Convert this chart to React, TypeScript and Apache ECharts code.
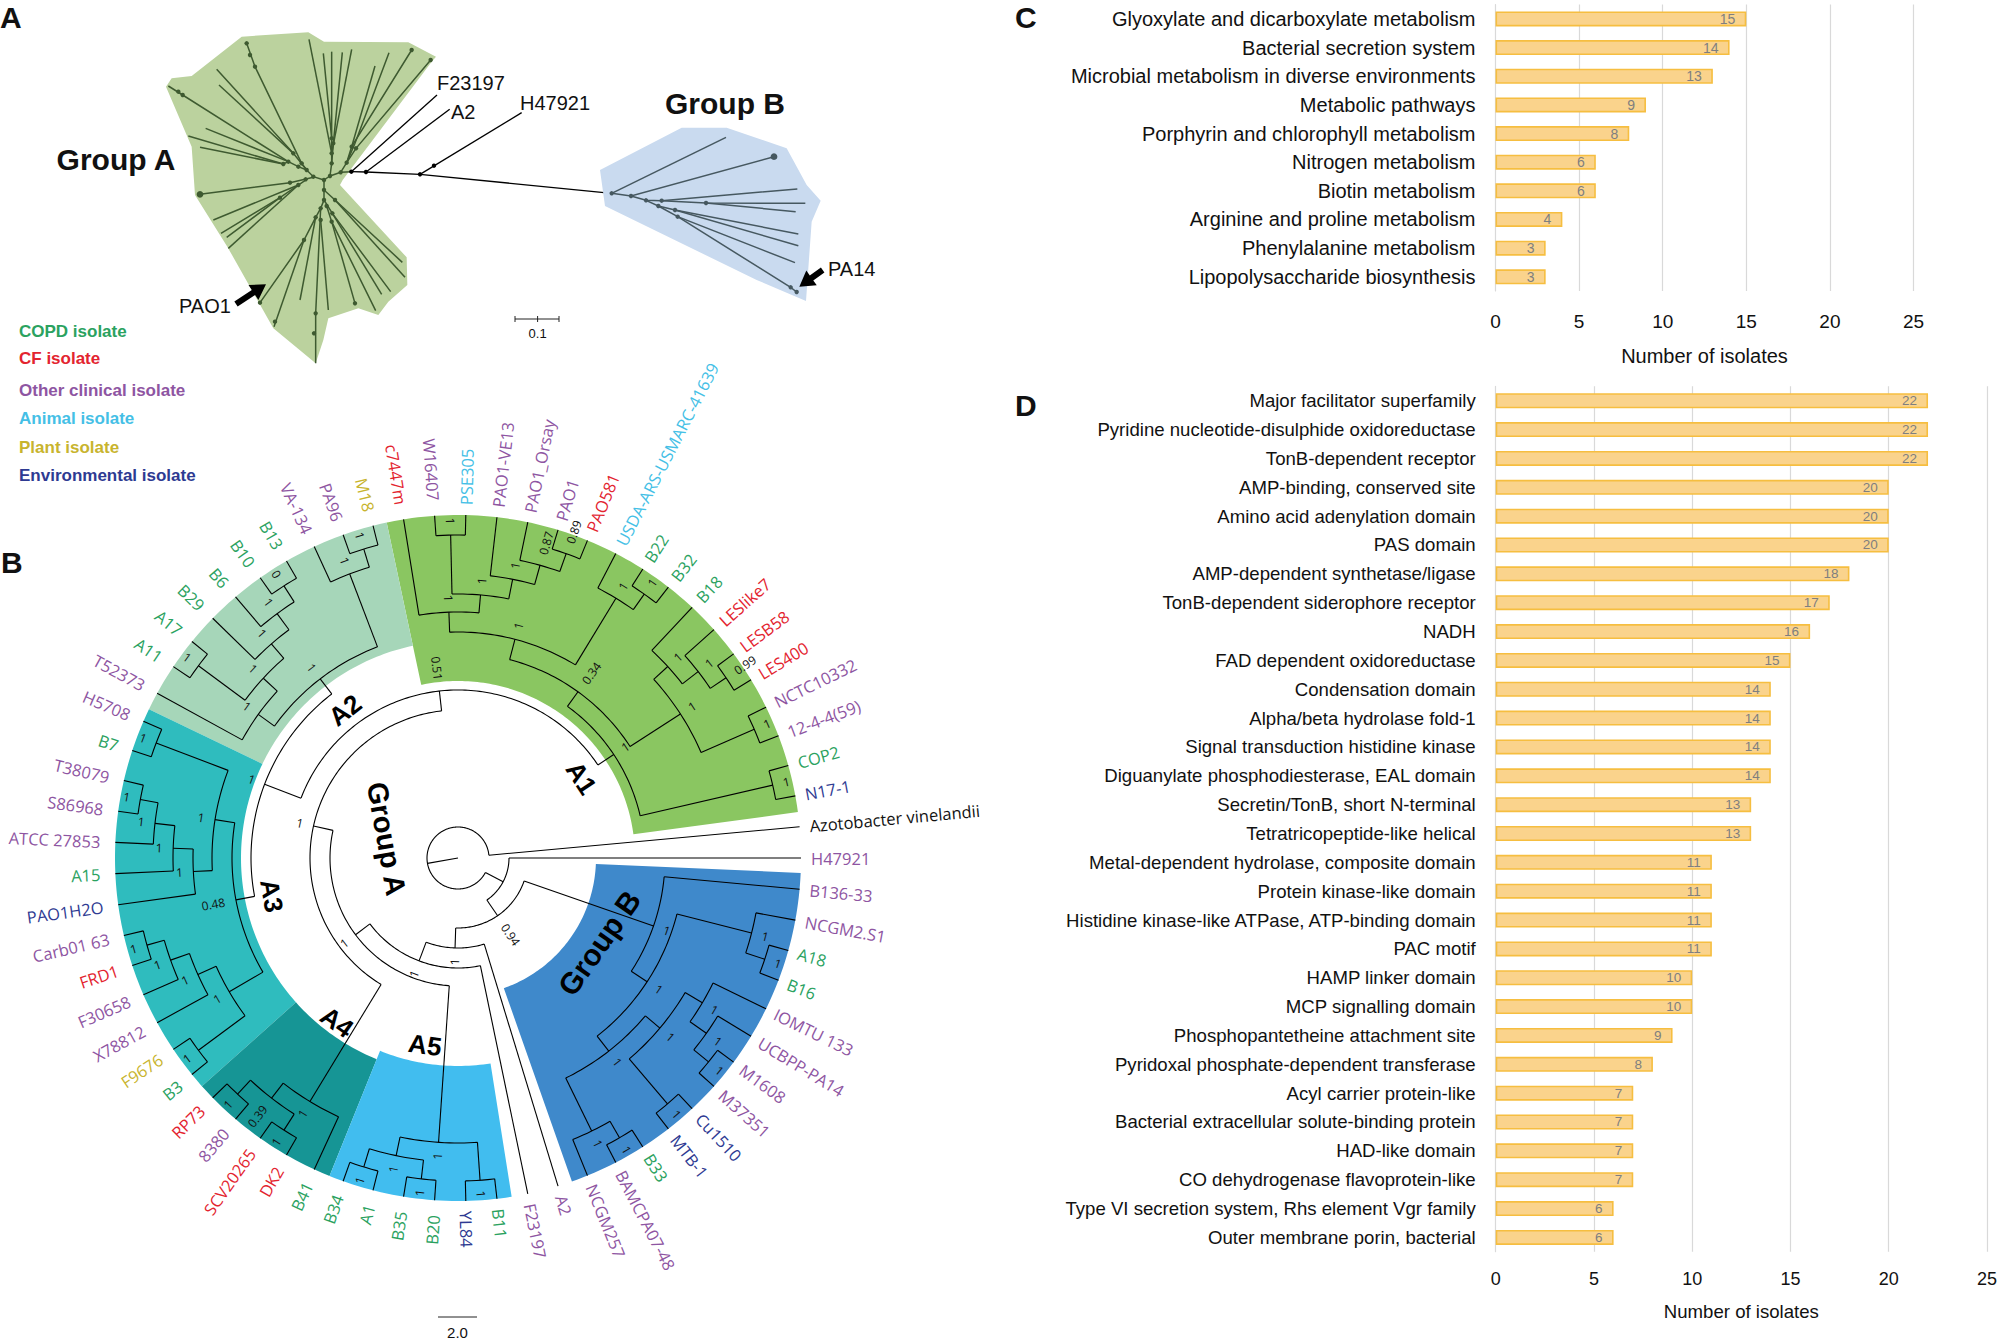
import React, { useEffect, useRef } from "react";
import * as echarts from "echarts";

/* ---------- Panel C / D bars ---------- */
const pathwayNames = ["Glyoxylate and dicarboxylate metabolism","Bacterial secretion system","Microbial metabolism in diverse environments","Metabolic pathways","Porphyrin and chlorophyll metabolism","Nitrogen metabolism","Biotin metabolism","Arginine and proline metabolism","Phenylalanine metabolism","Lipopolysaccharide biosynthesis"];
const pathwayCounts = [15,14,13,9,8,6,6,4,3,3];
const domainNames = ["Major facilitator superfamily","Pyridine nucleotide-disulphide oxidoreductase","TonB-dependent receptor","AMP-binding, conserved site","Amino acid adenylation domain","PAS domain","AMP-dependent synthetase/ligase","TonB-dependent siderophore receptor","NADH","FAD dependent oxidoreductase","Condensation domain","Alpha/beta hydrolase fold-1","Signal transduction histidine kinase","Diguanylate phosphodiesterase, EAL domain","Secretin/TonB, short N-terminal","Tetratricopeptide-like helical","Metal-dependent hydrolase, composite domain","Protein kinase-like domain","Histidine kinase-like ATPase, ATP-binding domain","PAC motif","HAMP linker domain","MCP signalling domain","Phosphopantetheine attachment site","Pyridoxal phosphate-dependent transferase","Acyl carrier protein-like","Bacterial extracellular solute-binding protein","HAD-like domain","CO dehydrogenase flavoprotein-like","Type VI secretion system, Rhs element Vgr family","Outer membrane porin, bacterial"];
const domainCounts = [22,22,22,20,20,20,18,17,16,15,14,14,14,14,13,13,11,11,11,11,10,10,9,8,7,7,7,7,6,6];

/* ---------- Panel B leaves, in angular order ---------- */
const leafNames = ["H47921","Azotobacter vinelandii","N17-1","COP2","12-4-4(59)","NCTC10332","LES400","LESB58","LESlike7","B18","B32","B22","USDA-ARS-USMARC-41639","PAO581","PAO1","PAO1_Orsay","PAO1-VE13","PSE305","W16407","c7447m","M18","PA96","VA-134","B13","B10","B6","B29","A17","A11","T52373","H5708","B7","T38079","S86968","ATCC 27853","A15","PAO1H2O","Carb01 63","FRD1","F30658","X78812","F9676","B3","RP73","8380","SCV20265","DK2","B41","B34","A1","B35","B20","YL84","B11","F23197","A2","NCGM257","BAMCPA07-48","B33","MTB-1","Cu1510","M37351","M1608","UCBPP-PA14","IOMTU 133","B16","A18","NCGM2.S1","B136-33"];
const leafKinds = "OXEDOOCCCDDDACOOOAOCPOODDDDDDOODOOODEOCOOPDCOCCDDDDDEDOOOODEEOOOODDOO".split("");
const kindColors: Record<string,string> = { D:"#2BA25F", C:"#E3242F", O:"#8E55A2", A:"#45BFE6", P:"#C8B42E", E:"#2E3A92", X:"#111111" };
const legendRows = [["COPD isolate","D",331],["CF isolate","C",358],["Other clinical isolate","O",390],["Animal isolate","A",418],["Plant isolate","P",447],["Environmental isolate","E",475]] as const;

type Node = { r:number; kids:(Node|string)[]; sup?:string; a?:number };
const t = (r:number, kids:(Node|string)[], sup?:string, a?:number):Node => ({r,kids,sup,a});

const cladeGroupB = t(207,["B136-33",t(226,[
  t(303,["NCGM2.S1",t(323,["A18","B16"],"1")],"1"),
  t(245,[
    t(264,[t(284,["IOMTU 133",t(304,["UCBPP-PA14",t(323,["M1608","M37351"],"1")],"1")],"1"),t(323,["Cu1510","MTB-1"],"1")],"1"),
    t(304,[t(323,["B33","BAMCPA07-48"],"1"),"NCGM257"],"1")
  ],"1")
],"1")],"1");
const cladeA1 = t(187,[t(323,["N17-1","COP2"],"1"),t(205,[
  t(265,[t(323,["NCTC10332","12-4-4(59)"],"1"),t(284,["B18",t(304,["LESlike7",t(323,["LESB58","LES400"],"0.99")],"1")],"1")],"1"),
  t(226,[
    t(304,["USDA-ARS-USMARC-41639",t(323,["B22","B32"],"1")],"1"),
    t(246,["c7447m",t(264,[t(323,["W16407","PSE305"],"1"),t(284,["PAO1-VE13",t(304,["PAO1_Orsay",t(323,["PAO1","PAO581"],"0.89")],"0.87")],"1")],"1")],"1")
  ],"1")
],"0.34")],"1");
const cladeA2 = t(226,[
  t(304,["VA-134",t(323,["M18","PA96"],"1")],"1"),
  t(246,["T52373",t(265,[t(323,["A11","A17"],"1"),t(284,["B29",t(304,["B6",t(323,["B10","B13"],"0")],"1")],"1")],"1")],"1")
],"1");
const cladeA3 = t(226,[
  t(246,[t(323,["H5708","B7"],"1"),t(265,["PAO1H2O",t(285,["A15",t(305,["ATCC 27853",t(323,["T38079","S86968"],"1")],"1")],"1")],"1")],"1"),
  t(265,[t(323,["F9676","B3"],"1"),t(285,["X78812",t(305,["F30658",t(323,["FRD1","Carb01 63"],"1")],"1")],"1")],"1")
],"0.48");
const cladeA4 = t(285,["B41",t(304,[t(323,["DK2","SCV20265"],"1"),t(323,["8380","RP73"],"1")],"0.39")],"1");
const cladeA5 = t(285,[t(323,["YL84","B11"],"1"),t(304,[t(323,["B20","B35"],"1"),t(323,["A1","B34"],"1")],"1")],"1");
const treeRoot = t(31,["Azotobacter vinelandii",t(51,["H47921",t(70,[cladeGroupB,
  t(90,["A2",t(110,["F23197",t(128,[cladeA5,t(148,[cladeA4,t(168,[cladeA1,t(207,[cladeA2,cladeA3],"1")],"0.51")],"1")],"1")],"1")],"1")
],"0.94")])],undefined,190);

/* clade shading: inner radius, from angle, to angle, colour */
const wedgeRows: [number,number,number,string][] = [
  [177,7.7,102,"#8AC661"],[217,102,154.3,"#A6D6B9"],[217,154.3,221.7,"#2FBCBE"],
  [217,221.7,248,"#169595"],[208,248,279,"#41BDEF"],[138,289.4,357.5,"#3F89CB"],
];
/* text, radius, angle, rotation, size */
const cladeLabels: [string,number,number,number,number][] = [
  ["Group A",74,165,-80,29],["Group B",165,329,55,30],["A1",147,33,-57,26],["A2",186,127.4,38,26],
  ["A3",190,191.5,-80,26],["A4",204,233.6,-35,26],["A5",190,260,-8,26],
];

/* ---------- Panel A, in tree-plot units ---------- */
const hullGroupA = [[48,200],[65,175],[125,168],[275,50],[475,37],[522,65],[775,67],[858,110],[845,125],[578,480],[570,495],[770,712],[772,795],[715,845],[685,885],[625,865],[535,895],[520,960],[497,1030],[370,925],[232,680],[135,525],[125,380]];
const hullGroupB = [[30,150],[275,23],[410,23],[590,85],[650,195],[692,242],[665,305],[648,543],[500,480],[45,258]];
const greenBranches = [
  [[522,480],[540,468],[572,457],[604,455]],
  [[572,457],[590,428],[618,385],[842,120]],[[590,428],[605,380],[785,90]],[[590,428],[615,370],[717,98]],[[605,380],[675,138]],
  [[540,468],[545,430],[545,355],[520,100]],[[545,355],[545,95]],[[545,430],[550,370],[577,97]],[[545,400],[605,88]],[[545,400],[477,58]],
  [[522,480],[490,470],[470,450],[455,430],[315,140],[290,70]],[[470,450],[430,400],[200,148]],[[430,400],[207,195]],
  [[470,450],[445,440],[415,425],[98,225],[55,198]],[[415,425],[167,325]],[[415,425],[400,432],[115,348]],[[400,432],[150,382]],
  [[490,472],[420,488],[150,523]],[[470,478],[445,495],[190,600]],[[445,495],[390,533],[213,640]],[[390,533],[230,652]],[[445,495],[235,685]],
  [[522,480],[522,540],[512,565],[497,592],[462,660],[330,848]],[[462,660],[372,920]],[[497,592],[450,840]],[[512,565],[497,880],[497,1030]],[[512,600],[535,870]],
  [[522,510],[555,540],[757,727]],[[555,540],[765,772]],[[522,540],[547,580],[722,815]],[[547,580],[695,823]],[[530,558],[545,605],[677,872]],[[545,605],[615,850]],
];
const greenDots = [[540,468],[572,457],[590,428],[618,385],[605,380],[545,430],[545,400],[545,355],[550,370],[785,90],[842,120],[290,70],[300,105],[315,140],[455,430],[430,400],[445,440],[415,425],[400,432],[98,225],[85,215],[490,470],[470,450],[522,480],[420,488],[445,495],[467,478],[390,533],[522,510],[522,540],[512,565],[497,592],[512,600],[462,660],[330,848],[375,905],[497,880],[492,940],[555,540],[530,558],[547,580],[545,605],[615,850]];
const greenBigDots = [[150,523]];
const blackBranches = [[[604,455],[648,456],[810,463],[1385,520]],[[604,455],[861,225]],[[648,456],[899,268]],[[810,463],[1115,278]]];
const blackDots = [[604,455],[648,456],[810,463],[852,437]];
const slateBranches = [
  [[65,220],[408,52]],[[65,220],[123,228],[552,110]],[[123,228],[168,241],[215,242],[622,207]],[[215,242],[348,249],[646,250]],[[348,249],[617,275]],
  [[168,241],[205,258],[255,270],[625,342]],[[255,270],[625,377]],[[205,258],[263,290],[615,428]],[[263,290],[602,502],[620,516]],
];
const slateDots = [[65,220],[123,228],[168,241],[215,242],[205,258],[255,270],[263,290],[348,249],[602,502],[620,516]];
const slateBigDots = [[552,110]];
const arrowA = [[258,852],[348,793]];
const arrowB = [[698,450],[628,500]];

/* ---------- derived tree layout ---------- */
const TIP = 343;
const branchSegs: number[][][] = [];
const supportRows: {r:number;a:number;text:string}[] = [];
const angleOf = (name:string) => { const i = leafNames.indexOf(name); return (i === 0 ? 69 : i) * 360 / 69; };
const arcPts = (r:number, lo:number, hi:number) => { const p:number[][] = []; for (let a = lo; a < hi; a += 1) p.push([r,a]); p.push([r,hi]); return p; };
function place(n:Node|string, parentR:number):number {
  if (typeof n === "string") { const a = angleOf(n); branchSegs.push([[parentR,a],[TIP,a]]); return a; }
  const as = n.kids.map(k => place(k,n.r));
  const lo = Math.min(...as), hi = Math.max(...as);
  const a = n.a ?? (lo+hi)/2;
  branchSegs.push(arcPts(n.r,lo,hi));
  branchSegs.push([[parentR,a],[n.r,a]]);
  if (n.sup) supportRows.push({ r:n.r + (n.sup.length === 1 ? 14 : 23), a, text:n.sup });
  return a;
}
place(treeRoot,0);

const inward = (a:number) => a > 90 && a < 270;
const rad = (d:number) => d*Math.PI/180;
const TREE_FONT = "'Open Sans', sans-serif";
const ARIAL = "'Liberation Sans', Arial, sans-serif";

function polarText(api:any, r:number, a:number, rot:number, text:string, fill:string, size:number, align:string, weight="normal", family=TREE_FONT) {
  const p = api.coord([r,a]);
  return { type:"text", x:p[0], y:p[1], rotation:rad(rot), silent:true,
    style:{ text, x:0, y:0, fill, fontSize:size, fontFamily:family, fontWeight:weight, align, textAlign:align, verticalAlign:"middle", textVerticalAlign:"middle" } };
}
const polySeries = (rows:number[][][], extra:any, stroke:string, lw:number) => ({
  type:"custom", silent:true, ...extra, data:rows.map(s => s[0]),
  renderItem:(p:any, api:any) => ({ type:"polyline", shape:{ points:rows[p.dataIndex].map(q => api.coord(q)) }, style:{ stroke, lineWidth:lw, fill:"none" } }),
});
const dotSeries = (rows:number[][], extra:any, fill:string, rr:number) => ({
  type:"custom", silent:true, ...extra, data:rows,
  renderItem:(p:any, api:any) => { const c = api.coord(rows[p.dataIndex]); return { type:"circle", shape:{ cx:c[0], cy:c[1], r:rr }, style:{ fill } }; },
});
const hullSeries = (pts:number[][], extra:any, fill:string) => ({
  type:"custom", silent:true, ...extra, data:[pts[0]],
  renderItem:(_p:any, api:any) => ({ type:"polygon", shape:{ points:pts.map(q => api.coord(q)) }, style:{ fill } }),
});
const arrowSeries = (seg:number[][], extra:any) => ({
  type:"custom", silent:true, ...extra, data:[seg[0]],
  renderItem:(_p:any, api:any) => {
    const a = api.coord(seg[0]), b = api.coord(seg[1]);
    const L = Math.hypot(b[0]-a[0],b[1]-a[1]), ux = (b[0]-a[0])/L, uy = (b[1]-a[1])/L, nx = -uy, ny = ux;
    const at = (s:number,w:number) => [a[0]+ux*s+nx*w, a[1]+uy*s+ny*w];
    return { type:"polygon", shape:{ points:[at(0,3),at(L-15,3),at(L-15,9),at(L,0),at(L-15,-9),at(L-15,-3),at(0,-3)] }, style:{ fill:"#000" } };
  },
});
const gridA = { xAxisIndex:2, yAxisIndex:2, coordinateSystem:"cartesian2d" };
const gridB = { xAxisIndex:3, yAxisIndex:3, coordinateSystem:"cartesian2d" };
const polarCS = { coordinateSystem:"polar", polarIndex:0, encode:{ radius:0, angle:1 } };

const gtext = (text:string, x:number, y:number, size:number, opts:any = {}) => ({
  type:"text", x, y, silent:true, style:{ text, fontSize:size, fontFamily:ARIAL, fill:"#111", align:opts.align ?? "left", textAlign:opts.align ?? "left", verticalAlign:"middle", textVerticalAlign:"middle", fontWeight:opts.weight ?? "normal" },
});
const gline = (x1:number,y1:number,x2:number,y2:number) => ({ type:"line", silent:true, shape:{x1,y1,x2,y2}, style:{ stroke:"#222", lineWidth:1 } });

function barPair(names:string[], counts:number[], idx:number, size:number, labelSize:number) {
  return {
    y:{ type:"category", gridIndex:idx, data:names, inverse:true, axisTick:{show:false},
      axisLine:{ show:true, lineStyle:{ color:"#D9D9D9", width:1 } },
      axisLabel:{ color:"#111", fontSize:size, fontFamily:ARIAL, margin:20 } },
    s:{ type:"bar", xAxisIndex:idx, yAxisIndex:idx, data:counts, barWidth:15, silent:true,
      itemStyle:{ color:"#FAD38C", borderColor:"#F6BE40", borderWidth:1.6 },
      label:{ show:true, position:"insideRight", distance:11, color:"#7F7F7F", fontSize:labelSize, fontFamily:ARIAL } },
  };
}
const xBar = (idx:number, size:number, margin:number, nameSize:number, gap:number) => ({
  type:"value", gridIndex:idx, min:0, max:25, interval:5, axisLine:{show:false}, axisTick:{show:false},
  splitLine:{ show:true, lineStyle:{ color:"#D9D9D9", width:1.2 } },
  axisLabel:{ color:"#111", fontSize:size, fontFamily:ARIAL, margin },
  name:"Number of isolates", nameLocation:"middle", nameGap:gap, nameTextStyle:{ color:"#111", fontSize:nameSize, fontFamily:ARIAL },
});
const hiddenX = (idx:number, max:number) => ({ type:"value", gridIndex:idx, min:0, max, show:false });
const hiddenY = (idx:number, max:number) => ({ type:"value", gridIndex:idx, min:0, max, inverse:true, show:false });

export default function App() {
  const ref = useRef<HTMLDivElement>(null);
  useEffect(() => {
    const chart = echarts.init(ref.current!, undefined, { renderer:"svg" });
    const c = barPair(pathwayNames, pathwayCounts, 0, 20, 14);
    const d = barPair(domainNames, domainCounts, 1, 18.6, 13.5);
    chart.setOption({
      animation:false, backgroundColor:"#fff",
      grid:[
        { left:1495.5, top:4.6, width:418, height:286.5 },
        { left:1495.7, top:386.3, width:496, height:865.5 },
        { left:150, top:20, width:320, height:360 },
        { left:590, top:120, width:300, height:200 },
      ],
      xAxis:[xBar(0,19,21,20,55), xBar(1,18,18,18.6,50), hiddenX(2,960), hiddenX(3,900)],
      yAxis:[c.y, d.y, hiddenY(2,1080), hiddenY(3,600)],
      polar:{ center:[458,858], radius:TIP },
      radiusAxis:{ type:"value", min:0, max:TIP, show:false, polarIndex:0 },
      angleAxis:{ type:"value", min:0, max:360, startAngle:0, clockwise:false, show:false, polarIndex:0 },
      series:[
        c.s, d.s,
        hullSeries(hullGroupA, gridA, "#BBD29E"),
        polySeries(greenBranches, gridA, "#3E5A30", 1.5),
        dotSeries(greenDots, gridA, "#3E5A30", 2.2),
        dotSeries(greenBigDots, gridA, "#3E5A30", 3.4),
        polySeries(blackBranches, gridA, "#000", 1.3),
        dotSeries(blackDots, gridA, "#000", 2.2),
        hullSeries(hullGroupB, gridB, "#C9DAEF"),
        polySeries(slateBranches, gridB, "#465860", 1.5),
        dotSeries(slateDots, gridB, "#465860", 2.2),
        dotSeries(slateBigDots, gridB, "#465860", 3.4),
        arrowSeries(arrowA, gridA),
        arrowSeries(arrowB, gridB),
        { type:"custom", silent:true, ...polarCS, data:wedgeRows.map(w => [w[0],w[1]]),
          renderItem:(p:any, api:any) => {
            const [r0,lo,hi,fill] = wedgeRows[p.dataIndex];
            const pts = [...arcPts(TIP,lo,hi), ...arcPts(r0,lo,hi).reverse()].map(q => api.coord(q));
            return { type:"polygon", shape:{ points:pts }, style:{ fill } };
          } },
        polySeries(branchSegs, polarCS, "#000", 1.1),
        { type:"custom", silent:true, ...polarCS, data:supportRows.map(s => [s.r,s.a]),
          renderItem:(p:any, api:any) => { const s = supportRows[p.dataIndex];
            return polarText(api, s.r, s.a, inward(s.a) ? s.a-180 : s.a, s.text, "#111", 12, "center"); } },
        { type:"custom", silent:true, ...polarCS, data:leafNames.map(n => [TIP,angleOf(n)]),
          renderItem:(p:any, api:any) => { const n = leafNames[p.dataIndex]; const a = angleOf(n); const ins = inward(a);
            return polarText(api, ins ? 358 : 353, a, ins ? a-180 : a, n, kindColors[leafKinds[p.dataIndex]], 16.5, ins ? "right" : "left"); } },
        { type:"custom", silent:true, ...polarCS, data:cladeLabels.map(l => [l[1],l[2]]),
          renderItem:(p:any, api:any) => { const l = cladeLabels[p.dataIndex];
            return polarText(api, l[1], l[2], l[3], l[0], "#000", l[4], "center", "bold", ARIAL); } },
      ],
      graphic:{ elements:[
        gtext("A",0,17,30,{weight:"bold"}), gtext("B",1,562,30,{weight:"bold"}), gtext("C",1015,17,30,{weight:"bold"}), gtext("D",1015,405,30,{weight:"bold"}),
        gtext("Group A",116,159,30,{weight:"bold",align:"center"}), gtext("Group B",725,103,30,{weight:"bold",align:"center"}),
        gtext("F23197",437,83,20), gtext("A2",451,112,20), gtext("H47921",520,103,20),
        gtext("PAO1",179,306,20), gtext("PA14",828,269,20),
        gtext("0.1",537.6,333,13,{align:"center"}),
        gline(515,319,559,319), gline(515,316,515,322), gline(537.6,316,537.6,322), gline(559,316,559,322),
        gline(438,1317,477,1317), gtext("2.0",457.5,1332,15,{align:"center"}),
        ...legendRows.map(([txt,k,y]) => ({ type:"text", x:19, y, silent:true,
          style:{ text:txt, fontSize:17, fontFamily:ARIAL, fontWeight:"bold", fill:kindColors[k], align:"left", textAlign:"left", verticalAlign:"middle", textVerticalAlign:"middle" } })),
      ] },
    });
    return () => chart.dispose();
  }, []);
  return <div ref={ref} style={{ position:"absolute", left:0, top:0, width:2000, height:1344 }} />;
}
